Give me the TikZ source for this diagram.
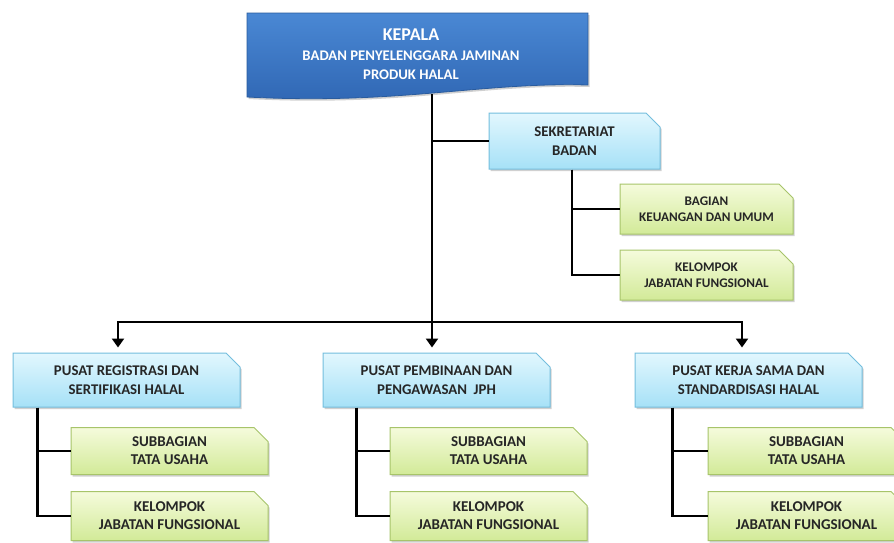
\documentclass[tikz,border=0pt]{standalone}
\usepackage{fontspec}
\setmainfont{Carlito}
\usetikzlibrary{shapes.misc,arrows.meta,shadows}
\definecolor{blueT}{HTML}{4A88D4}
\definecolor{blueB}{HTML}{2F66B3}
\definecolor{blueBd}{HTML}{2A5C9E}
\definecolor{cyanT}{HTML}{E2F7FE}
\definecolor{cyanB}{HTML}{A6E1F7}
\definecolor{cyanBd}{HTML}{74BEDD}
\definecolor{greenT}{HTML}{F5FBDC}
\definecolor{greenB}{HTML}{D2EA98}
\definecolor{greenBd}{HTML}{A7C46A}
\definecolor{txt}{HTML}{262626}
\tikzset{
  unit/.style={chamfered rectangle, chamfered rectangle corners=north east,
    chamfered rectangle xsep=7pt, chamfered rectangle ysep=7pt, inner sep=0pt,
    align=center, text=txt, line width=1pt,
    drop shadow={shadow xshift=1.5pt, shadow yshift=-2pt, opacity=0.3, fill=black!60}},
  bluebox/.style={unit, draw=cyanBd, top color=cyanT, bottom color=cyanB,
    font=\bfseries\fontsize{14.8}{19}\selectfont},
  greenbox/.style={unit, draw=greenBd, top color=greenT, bottom color=greenB,
    font=\bfseries\fontsize{15}{18}\selectfont},
  smallgreen/.style={greenbox, font=\bfseries\fontsize{13.2}{15.5}\selectfont},
  link/.style={line width=2.6pt, draw=black},
}
\begin{document}
\begin{tikzpicture}[x=1pt,y=-1pt]
\useasboundingbox (0,0) rectangle (894,542);
\clip (0,0) rectangle (894,542);
\fill[white] (0,0) rectangle (894,542);
% KEPALA shape
\path[draw=blueBd, line width=0.8pt, top color=blueT, bottom color=blueB,
  drop shadow={shadow xshift=1.5pt, shadow yshift=-2pt, opacity=0.3, fill=black!60}]
  (247,13) -- (588,13) -- (588,85) .. controls (480,82) and (400,105) .. (247,97) -- cycle;
\node[text=white, align=center, font=\bfseries\fontsize{14.7}{19}\selectfont] (kepala) at (411,54)
  {{\fontsize{18}{18}\selectfont KEPALA}\\[1pt] BADAN PENYELENGGARA JAMINAN\\ PRODUK HALAL};
\coordinate (kb) at (432,94);
% Sekretariat
\node[bluebox, minimum width=171pt, minimum height=56pt] (sek) at (574.5,141) {SEKRETARIAT\\BADAN};
\node[smallgreen, minimum width=173pt, minimum height=50pt] (bag) at (706.5,209) {BAGIAN\\KEUANGAN DAN UMUM};
\node[smallgreen, minimum width=173pt, minimum height=50pt] (kel) at (706.5,275) {KELOMPOK\\JABATAN FUNGSIONAL};
% Pusat
\node[bluebox, minimum width=227pt, minimum height=54pt] (p1) at (126.5,380) {PUSAT REGISTRASI DAN\\SERTIFIKASI HALAL};
\node[bluebox, minimum width=227pt, minimum height=54pt] (p2) at (436.5,380) {PUSAT PEMBINAAN DAN\\PENGAWASAN\ \ JPH};
\node[bluebox, minimum width=227pt, minimum height=54pt] (p3) at (748.5,380) {PUSAT KERJA SAMA DAN\\STANDARDISASI HALAL};
% Sub units
\node[greenbox, minimum width=197pt, minimum height=47pt] (s1) at (169.5,451) {SUBBAGIAN\\TATA USAHA};
\node[greenbox, minimum width=197pt, minimum height=49pt] (k1) at (169.5,516) {KELOMPOK\\JABATAN FUNGSIONAL};
\node[greenbox, minimum width=197pt, minimum height=47pt] (s2) at (488.5,451) {SUBBAGIAN\\TATA USAHA};
\node[greenbox, minimum width=197pt, minimum height=49pt] (k2) at (488.5,516) {KELOMPOK\\JABATAN FUNGSIONAL};
\node[greenbox, minimum width=197pt, minimum height=47pt] (s3) at (806.5,451) {SUBBAGIAN\\TATA USAHA};
\node[greenbox, minimum width=197pt, minimum height=49pt] (k3) at (806.5,516) {KELOMPOK\\JABATAN FUNGSIONAL};
% connectors
\coordinate (b1) at (118,322);
\coordinate (b3) at (742,322);
\draw[link, -{Triangle[length=9pt,width=12pt]}, shorten >=5pt] (kb) -- (kb |- p2.north);
\draw[link, {Triangle[length=9pt,width=12pt]}-{Triangle[length=9pt,width=12pt]}, shorten <=5pt, shorten >=5pt]
  (b1 |- p1.north) -- (b1) -- (b3) -- (b3 |- p3.north);
\draw[link] (kb |- sek.west) -- (sek.west);
\draw[link] ([xshift=-2.5pt]sek.south) |- (bag.west);
\draw[link] ([xshift=-2.5pt]sek.south) |- (kel.west);
\draw[link] ([xshift=-33pt]p1.south -| s1.west) |- (s1.west);
\draw[link] ([xshift=-33pt]p1.south -| s1.west) |- (k1.west);
\draw[link] ([xshift=-33pt]p2.south -| s2.west) |- (s2.west);
\draw[link] ([xshift=-33pt]p2.south -| s2.west) |- (k2.west);
\draw[link] ([xshift=-35pt]p3.south -| s3.west) |- (s3.west);
\draw[link] ([xshift=-35pt]p3.south -| s3.west) |- (k3.west);
\end{tikzpicture}
\end{document}
